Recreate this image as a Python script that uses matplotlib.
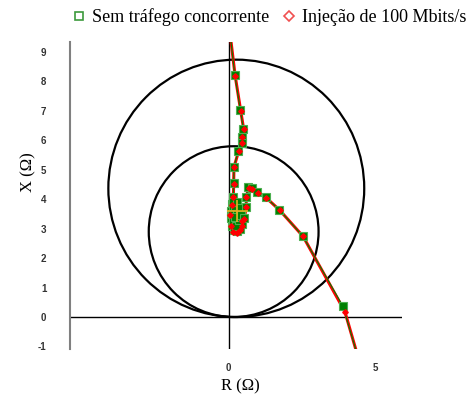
import matplotlib
matplotlib.use("Agg")
import matplotlib.pyplot as plt
from matplotlib.patches import Circle
from matplotlib.lines import Line2D

plt.rcParams["axes.unicode_minus"] = False

# impedance sweep, no concurrent traffic
r_sem = [0.05, 0.21, 0.40, 0.50, 0.46, 0.44, 0.33, 0.18, 0.17, 0.16,
         0.12, 0.08, 0.07, 0.10, 0.18, 0.28, 0.38, 0.44, 0.30, 0.20,
         0.15, 0.25, 0.35, 0.28, 0.15, 0.22, 0.10, 0.30, 0.25, 0.35,
         0.15, 0.30, 0.40, 0.20, 0.42,
         0.53, 0.59, 0.59, 0.67, 0.78, 0.98, 1.27, 1.73, 2.53, 3.90, 4.40]
x_sem = [9.60, 8.21, 7.02, 6.40, 6.12, 5.91, 5.64, 5.10, 4.54, 4.08,
         3.85, 3.60, 3.35, 3.10, 2.95, 2.92, 3.00, 3.15, 3.30, 3.50,
         3.70, 3.80, 3.60, 3.20, 3.25, 3.65, 3.50, 3.50, 3.10, 3.30,
         3.90, 3.90, 3.70, 3.40, 3.45,
         3.35, 3.74, 4.08, 4.40, 4.37, 4.23, 4.06, 3.64, 2.75, 0.37, -1.30]

# impedance sweep, 100 Mbit/s injection
r_inj = [0.05, 0.22, 0.41, 0.51, 0.47, 0.44, 0.34, 0.18, 0.17, 0.16,
         0.10, 0.06, 0.08, 0.16, 0.28, 0.40, 0.46, 0.47,
         0.53, 0.60, 0.60, 0.68, 0.79, 0.99, 1.28, 1.74, 2.54, 3.97, 4.40]
x_inj = [9.60, 8.20, 7.01, 6.39, 6.11, 5.90, 5.63, 5.09, 4.53, 4.07,
         3.80, 3.45, 3.10, 2.90, 2.86, 2.95, 3.10, 3.25,
         3.34, 3.73, 4.07, 4.39, 4.36, 4.22, 4.05, 3.63, 2.74, 0.18, -1.30]

# reference circles (center r, center x, radius)
circ_r = [0.26, 0.17]
circ_x = [4.37, 2.90]
circ_rad = [4.37, 2.90]

# mean point with spread
mean_r, mean_x = 0.30, 3.60
spread_r, spread_x = 0.37, 0.37

fig = plt.figure(figsize=(4.74, 3.96), dpi=100)
ax = fig.add_axes([70/474, 1 - 349.4/396, 332/474, 307.7/396])

for cr, cx, rad in zip(circ_r, circ_x, circ_rad):
    ax.add_patch(Circle((cr, cx), rad, fill=False, color="black", lw=1.6))

ax.axhline(0, color="black", lw=1)
ax.axvline(0, color="black", lw=1)

mk = slice(1, -1)
ax.plot(r_inj, x_inj, color="red", lw=2.2, zorder=3)
ax.plot(r_sem, x_sem, color="green", lw=0.8, zorder=4)
ax.plot(r_sem, x_sem, ls="none", marker="s", ms=5.5, mfc="green",
        mec="#4caf50", mew=0.8, markevery=mk, zorder=5)
ax.plot(r_inj, x_inj, ls="none", marker="D", ms=2.8, mfc="red",
        mec="red", markevery=mk, zorder=6)
ax.errorbar([mean_r], [mean_x], xerr=[spread_r], yerr=[spread_x],
            fmt="none", ecolor="#e8b020", elinewidth=1.2, zorder=7)

ax.set_xlim(-5.42, 5.92)
ax.set_ylim(-1.1, 9.35)
ax.set_xticks([0, 5])
ax.set_yticks(range(-1, 10))
ax.tick_params(axis="x", length=0, pad=10, labelsize=7)
ax.tick_params(axis="y", length=0, pad=17, labelsize=7)
for lab in ax.get_xticklabels() + ax.get_yticklabels():
    lab.set_family("Liberation Sans")
    lab.set_color("#333333")
    lab.set_fontweight("bold")
for s in ["top", "right", "bottom"]:
    ax.spines[s].set_visible(False)
ax.spines["left"].set_color("#808080")
ax.spines["left"].set_linewidth(1.5)

fig.text(240/474, 1 - 386/396, "R (Ω)", ha="center", va="center",
         family="Liberation Serif", fontsize=12)
fig.text(28/474, 1 - 172/396, "X (Ω)", ha="center", va="center",
         rotation=90, family="Liberation Serif", fontsize=12)

handles = [Line2D([], [], ls="none", marker="s", ms=6, mfc="none", mec="#3c9a3c", mew=1.2),
           Line2D([], [], ls="none", marker="D", ms=5, mfc="none", mec="#f05050", mew=1.2)]
fig.legend(handles, ["Sem tráfego concorrente", "Injeção de 100 Mbits/s"],
           loc="center", bbox_to_anchor=(268/474, 1 - 17/396), ncol=2, frameon=False,
           prop={"family": "Liberation Serif", "size": 13},
           handletextpad=0.2, columnspacing=0.6, handlelength=1)

fig.savefig("out.png", dpi=100)
